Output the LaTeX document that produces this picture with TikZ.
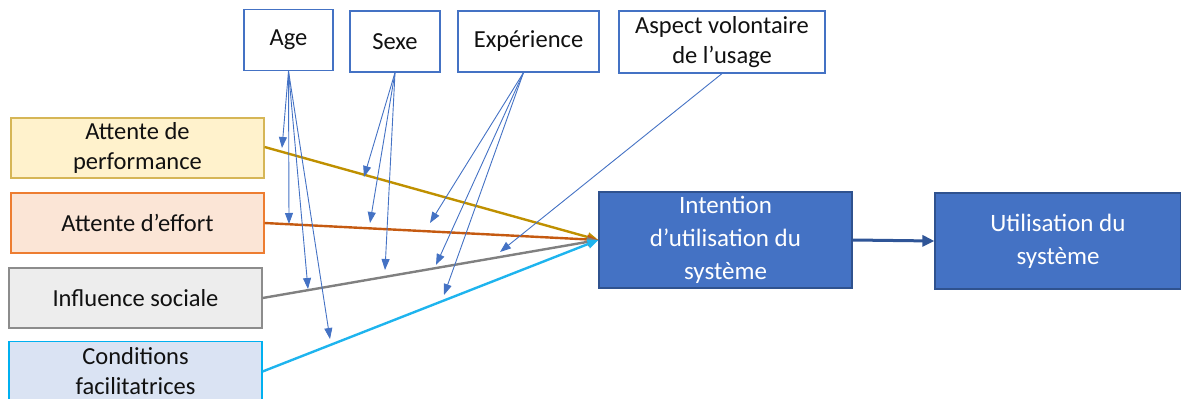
\documentclass[tikz,border=0pt]{standalone}
\usepackage{fontspec}
\setmainfont{Carlito}
\usetikzlibrary{arrows.meta}
\definecolor{perfFill}{HTML}{FFF2CC}
\definecolor{perfLine}{HTML}{D6B656}
\definecolor{perfArrow}{HTML}{BF9000}
\definecolor{effFill}{HTML}{FBE5D6}
\definecolor{effLine}{HTML}{ED7D31}
\definecolor{effArrow}{HTML}{C55A11}
\definecolor{socFill}{HTML}{EDEDED}
\definecolor{socLine}{HTML}{8C8C8C}
\definecolor{socArrow}{HTML}{808080}
\definecolor{conFill}{HTML}{DAE3F3}
\definecolor{conLine}{HTML}{00B0F0}
\definecolor{conArrow}{HTML}{1EB4EE}
\definecolor{mainBlue}{HTML}{4472C4}
\definecolor{darkBlue}{HTML}{2F528F}
\definecolor{arrowBlue}{HTML}{2F5597}
\definecolor{txt}{HTML}{111111}
\begin{document}
\begin{tikzpicture}[x=1pt,y=-1pt,
  base/.style={draw, line width=1.2pt, align=center, inner sep=0pt,
    font=\fontsize{24.5}{30}\selectfont, text=txt},
  topbox/.style={base, draw=mainBlue, fill=white, minimum height=61pt},
  leftbox/.style={base, minimum width=253pt, minimum height=60pt},
  bluebox/.style={base, draw=darkBlue, fill=mainBlue, text=white,
    font=\fontsize{25}{33}\selectfont, minimum height=96pt},
  modarrow/.style={draw=mainBlue, line width=0.9pt, -{Triangle[length=11pt,width=8pt]}},
  mainarrow/.style={line width=2.4pt, -{Triangle[length=11pt,width=9pt]}}
]
\useasboundingbox (0,0) rectangle (1181,399);

% top moderators
\node[topbox, minimum width=89pt] (age) at (288.5,40) {Age};
\node[topbox, minimum width=90pt] (sexe) at (395,41.5) {Sexe};
\node[topbox, minimum width=141pt] (exp) at (528.5,41.5) {Expérience};
\node[topbox, minimum width=206pt, minimum height=62pt] (vol) at (722,42) {Aspect volontaire\\de l’usage};

% left constructs
\node[leftbox, draw=perfLine, fill=perfFill] (perf) at (137.5,148) {Attente de\\performance};
\node[leftbox, draw=effLine, fill=effFill] (eff) at (137.5,223) {Attente d’effort};
\node[leftbox, draw=socLine, fill=socFill] (soc) at (135.5,298) {Influence sociale};
\node[leftbox, draw=conLine, fill=conFill] (con) at (135.5,371.5) {Conditions\\facilitatrices};

% outcomes
\node[bluebox, minimum width=253pt] (int) at (725.5,240) {Intention\\d’utilisation du\\système};
\node[bluebox, minimum width=246pt, text depth=4pt] (use) at (1058,241) {Utilisation du\\système};

% main arrows
\draw[mainarrow, draw=perfArrow, fill=perfArrow] (perf.east) ++(0,-1) -- (int.west);
\draw[mainarrow, draw=effArrow, fill=effArrow] (eff.east) -- (int.west);
\draw[mainarrow, draw=socArrow, fill=socArrow] (soc.east) -- (int.west);
\draw[mainarrow, draw=conArrow, fill=conArrow] (con.east) -- (int.west);
\draw[line width=3pt, draw=arrowBlue, -{Triangle[length=12pt,width=11pt]}] (int.east) -- (use.west);

% moderator end points
\coordinate (a1) at (282,148);
\coordinate (a2) at (289,224);
\coordinate (a3) at (308,289);
\coordinate (a4) at (330,339);
\coordinate (s1) at (364,177);
\coordinate (s2) at (370,223);
\coordinate (s3) at (385,270);
\coordinate (e1) at (430,223);
\coordinate (e2) at (436,265);
\coordinate (e3) at (444,295);
\coordinate (v1) at (500,252);

% moderator arrows
\foreach \t in {a1,a2,a3,a4} \draw[modarrow] (age.south) -- (\t);
\foreach \t in {s1,s2,s3} \draw[modarrow] (sexe.south) -- (\t);
\foreach \t in {e1,e2,e3} \draw[modarrow] ([xshift=-5pt]exp.south) -- (\t);
\draw[modarrow] (vol.south) -- (v1);
\end{tikzpicture}
\end{document}
